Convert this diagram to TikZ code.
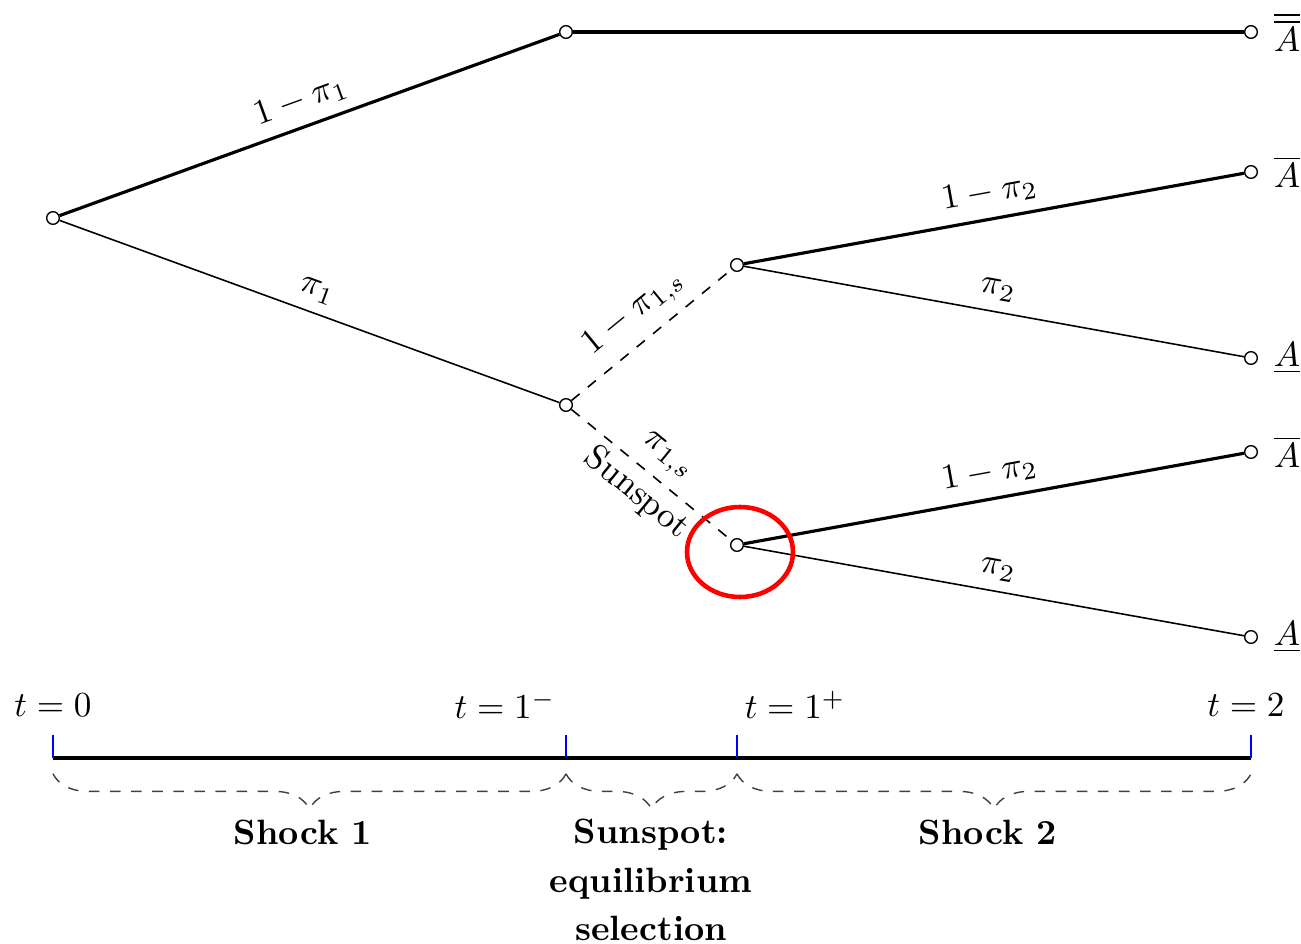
\documentclass[tikz,border=0pt]{standalone}
\usepackage{amsmath, amssymb}
\usepackage{xcolor}
\usepackage{tikz}
\usetikzlibrary{
    shapes.geometric,
    positioning,
    calc,
    decorations.pathreplacing
}

\begin{document}
\begin{tikzpicture}[
    chance/.style={circle, draw=black, fill=white, inner sep=0pt, minimum size=3.6pt, line width=0.4pt},
    heavy/.style={draw=black, line width=0.9pt},
    light/.style={draw=black, line width=0.45pt},
    spot/.style={draw=black, line width=0.45pt, dashed},
    prob/.style={sloped, above, inner sep=3pt},
    tickmark/.style={draw=blue, line width=0.6pt},
    period/.style={decorate, decoration={brace, mirror, amplitude=10pt, raise=4.5pt}, draw=black!75, dashed, line width=0.4pt},
    phase/.style={font=\bfseries, align=center}
]
\useasboundingbox (0,0) rectangle (13.01,-9.44);

% ==================== TREE NODES ====================
\node[chance] (root) at (0.53,-2.18) {};
\node[chance] (top1) at (5.66,-0.32) {};
\node[chance] (topend) at (12.51,-0.32) {};
\node[chance] (mid) at (5.66,-4.05) {};
\node[chance] (up) at (7.37,-2.65) {};
\node[chance] (upH) at (12.51,-1.72) {};
\node[chance] (upL) at (12.51,-3.58) {};
\node[chance] (low) at (7.37,-5.45) {};
\node[chance] (lowH) at (12.51,-4.52) {};
\node[chance] (lowL) at (12.51,-6.37) {};

\node[right=1pt of topend] (lab_topend) {$\overline{\overline{A}}$};
\node[right=1pt of upH] (lab_upH) {$\overline{A}$};
\node[right=1pt of upL] (lab_upL) {$\underline{A}$};
\node[right=1pt of lowH] (lab_lowH) {$\overline{A}$};
\node[right=1pt of lowL] (lab_lowL) {$\underline{A}$};

% ==================== SHOCK 1 ====================
\draw[heavy] (root) -- node[prob] {$1-\pi_1$} (top1);
\draw[light] (root) -- node[prob] {$\pi_1$} (mid);
\draw[heavy] (top1) -- (topend);

% ==================== SUNSPOT ====================
\draw[spot] (mid) -- node[prob] {$1-\pi_{1,s}$} (up);
\draw[spot] (mid) -- node[prob] {$\pi_{1,s}$} node[sloped, below, inner sep=2pt] {Sunspot} (low);

% ==================== SHOCK 2 ====================
\draw[heavy] (up) -- node[prob] {$1-\pi_2$} (upH);
\draw[light] (up) -- node[prob] {$\pi_2$} (upL);
\draw[heavy] (low) -- node[prob] {$1-\pi_2$} (lowH);
\draw[light] (low) -- node[prob] {$\pi_2$} (lowL);

\node[ellipse, draw=red, line width=1.3pt, minimum width=1.06cm, minimum height=0.9cm] (ring) at ($(low)+(0.03,-0.07)$) {};

% ==================== TIMELINE ====================
\coordinate (t0) at (0.53,-7.58);
\coordinate (t1m) at (5.66,-7.58);
\coordinate (t1p) at (7.37,-7.58);
\coordinate (t2) at (12.51,-7.58);
\draw[line width=0.9pt] (t0) -- (t2);
\foreach \c in {t0,t1m,t1p,t2}
    \draw[tickmark] (\c) -- ++(0,0.23);

\node (lab_t0) at (0.53,-7.05) {$t=0$};
\node (lab_t1m) at (5.05,-7.05) {$t=1^-$};
\node (lab_t1p) at (7.95,-7.05) {$t=1^+$};
\node (lab_t2) at (12.46,-7.05) {$t=2$};

\draw[period] (t0) -- (t1m);
\draw[period] (t1m) -- (t1p);
\draw[period] (t1p) -- (t2);

\node[phase] (shock1) at (3.03,-8.32) {Shock 1};
\node[phase] (sunsel) at (6.51,-8.80) {Sunspot:\\[1.7pt]equilibrium\\[1.7pt]selection};
\node[phase] (shock2) at (9.88,-8.32) {Shock 2};

\end{tikzpicture}
\end{document}
